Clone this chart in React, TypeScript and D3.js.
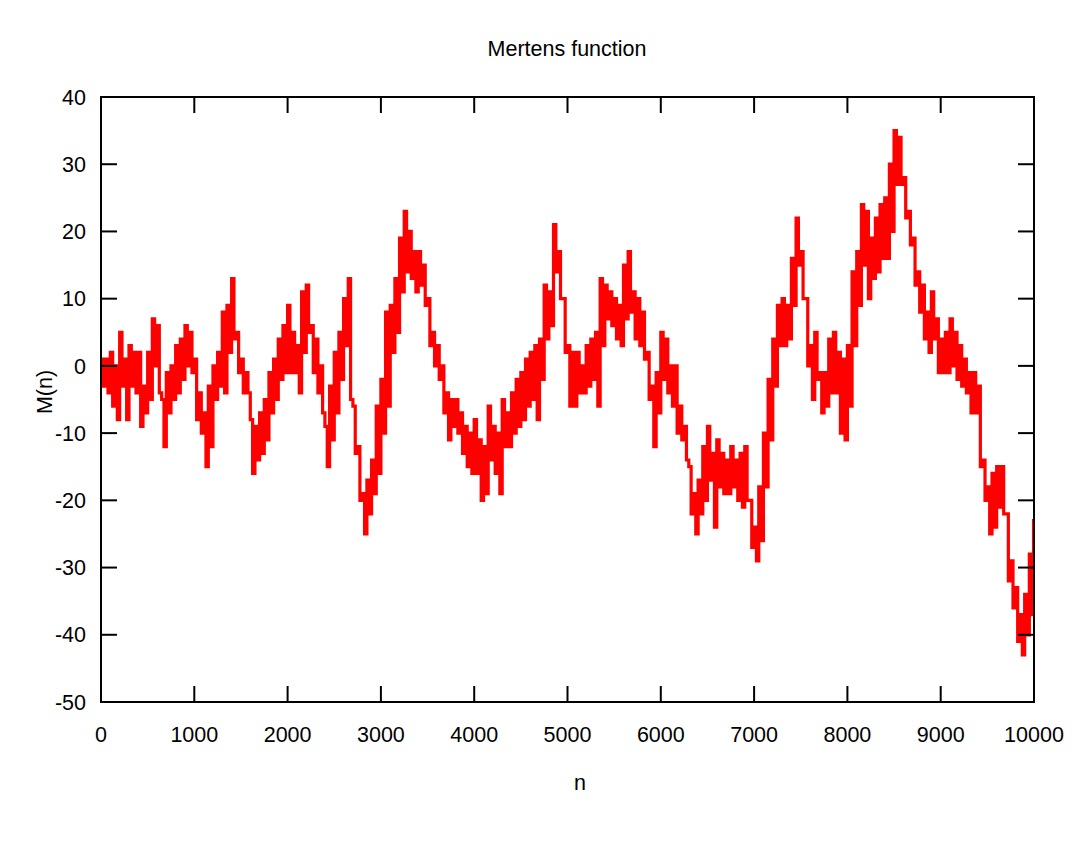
import React from "react";
import * as d3 from "d3";

// Envelope of M(n), one pair per 50-n bin (bin i covers [50i, 50i+50))
const BIN_WIDTH = 50;
const HI: number[] = [
  1, 1, 2, 0, 5, 1, 3, 2, 2, -3, 2, 7, 6, -5, -1, 0, 3, 4, 6, 5,
  1, -4, -7, -3, 0, 2, 8, 9, 13, 5, 1, -1, -8, -9, -7, -5, -1, 1, 4, 6,
  9, 5, 3, 11, 12, 6, 4, 0, -9, -3, 2, 5, 10, 13, -6, -12, -19, -17, -14, -6,
  -2, 8, 9, 13, 19, 23, 20, 17, 17, 15, 10, 5, 3, 0, -4, -5, -5, -7, -9, -10,
  -8, -11, -12, -6, -9, -10, -5, -7, -4, -2, -1, 1, 2, 3, 4, 12, 11, 21, 17, 10,
  3, 2, 2, 0, 3, 4, 5, 13, 12, 11, 10, 9, 15, 17, 11, 10, 8, 2, -3, -1,
  5, 4, 0, 0, -6, -9, -15, -19, -17, -12, -9, -13, -11, -13, -14, -12, -14, -13, -12, -20,
  -24, -18, -10, -2, 4, 9, 10, 9, 16, 22, 17, 10, 3, 5, -1, -1, 4, 5, 2, 1,
  3, 14, 17, 24, 23, 19, 22, 24, 25, 30, 35, 34, 28, 23, 19, 14, 12, 8, 11, 7,
  4, 5, 7, 5, 3, 1, -1, -1, -3, -14, -18, -16, -15, -15, -22, -29, -33, -37, -34, -28,
];
const LO: number[] = [
  -3, -4, -6, -8, -3, -8, -3, -4, -9, -7, -5, 0, -4, -12, -7, -5, -4, -2, 0, -1,
  -8, -10, -15, -12, -5, -3, -4, 2, 4, -1, -4, -4, -16, -14, -13, -11, -7, -5, -2, -1,
  -1, -1, -4, 2, 5, -1, -4, -7, -15, -11, -7, -2, 3, -5, -13, -20, -25, -22, -19, -16,
  -10, -6, 2, 5, 11, 14, 13, 11, 12, 9, 3, 0, -2, -7, -11, -9, -10, -13, -15, -16,
  -16, -20, -19, -14, -16, -19, -12, -12, -10, -9, -8, -6, -5, -8, -2, 4, 6, 14, 10, 2,
  -6, -6, -4, -4, -3, -2, -6, 3, 7, 6, 4, 3, 7, 8, 4, 3, 1, -5, -12, -7,
  -2, -4, -6, -10, -11, -14, -22, -25, -22, -20, -17, -24, -18, -19, -19, -18, -20, -21, -20, -27,
  -29, -26, -18, -11, -3, 3, 3, 4, 9, 15, 10, 0, -5, -2, -7, -6, -4, -4, -10, -11,
  -6, 3, 9, 15, 10, 13, 14, 16, 16, 20, 27, 27, 22, 18, 12, 8, 4, 2, 4, -1,
  -1, -1, 0, -2, -3, -4, -7, -7, -15, -20, -25, -24, -21, -22, -32, -36, -41, -43, -40, -37,
];
const LAST_N = 10000;
const LAST_VALUE = -23;

const X_TICKS = [0, 1000, 2000, 3000, 4000, 5000, 6000, 7000, 8000, 9000, 10000];
const Y_TICKS = [-50, -40, -30, -20, -10, 0, 10, 20, 30, 40];
const TITLE = "Mertens function";
const X_LABEL = "n";
const Y_LABEL = "M(n)";

export default function App() {
  const W = 1080;
  const H = 864;
  const left = 101;
  const right = 1034;
  const top = 97;
  const bottom = 702;
  const x = d3.scaleLinear().domain([0, 10000]).range([left, right]);
  const y = d3.scaleLinear().domain([-50, 40]).range([bottom, top]);

  // each bin drawn as hi -> lo within its width, so the stroke fills the envelope
  const pts: [number, number][] = [];
  HI.forEach((h, i) => {
    const l = LO[i];
    const n0 = i * BIN_WIDTH;
    pts.push([n0, h], [n0 + BIN_WIDTH / 2, l]);
  });
  pts.push([LAST_N - 5, LAST_VALUE], [LAST_N, LAST_VALUE]);

  const line = d3
    .line<[number, number]>()
    .x((d) => x(d[0]))
    .y((d) => y(d[1]))
    .curve(d3.curveStepAfter);

  const tickLen = 16;
  const font = "'Liberation Sans', Arial, sans-serif";
  const fs = 21.5;

  return (
    <svg
      width={W}
      height={H}
      style={{ position: "absolute", left: 0, top: 0, background: "#fff" }}
      fontFamily={font}
    >
      <rect x={0} y={0} width={W} height={H} fill="#fff" />
      <defs>
        <clipPath id="clip">
          <rect x={left} y={top} width={right - left} height={bottom - top} />
        </clipPath>
      </defs>
      <text x={567} y={56} fontSize={fs} textAnchor="middle" fill="#000">
        {TITLE}
      </text>
      <path
        d={line(pts) || ""}
        fill="none"
        stroke="#ff0000"
        strokeWidth={3.2}
        strokeLinejoin="miter"
        clipPath="url(#clip)"
      />
      {Y_TICKS.map((t) => (
        <g key={"y" + t}>
          <line x1={left} x2={left + tickLen} y1={y(t)} y2={y(t)} stroke="#000" strokeWidth={2} />
          <line x1={right} x2={right - tickLen} y1={y(t)} y2={y(t)} stroke="#000" strokeWidth={2} />
          <text x={86} y={y(t) + 7.7} fontSize={fs} textAnchor="end" fill="#000">
            {t}
          </text>
        </g>
      ))}
      {X_TICKS.map((t) => (
        <g key={"x" + t}>
          <line x1={x(t)} x2={x(t)} y1={bottom} y2={bottom - tickLen} stroke="#000" strokeWidth={2} />
          <line x1={x(t)} x2={x(t)} y1={top} y2={top + tickLen} stroke="#000" strokeWidth={2} />
          <text x={x(t)} y={742} fontSize={fs} textAnchor="middle" fill="#000">
            {t}
          </text>
        </g>
      ))}
      <rect
        x={left}
        y={top}
        width={right - left}
        height={bottom - top}
        fill="none"
        stroke="#000"
        strokeWidth={2}
      />
      <text x={580} y={790} fontSize={fs} textAnchor="middle" fill="#000">
        {X_LABEL}
      </text>
      <text
        transform={`translate(52, 392) rotate(-90)`}
        fontSize={fs}
        textAnchor="middle"
        fill="#000"
      >
        {Y_LABEL}
      </text>
    </svg>
  );
}
